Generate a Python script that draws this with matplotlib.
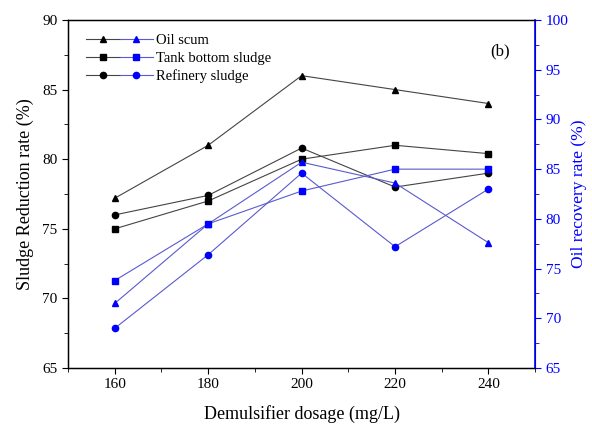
import matplotlib
matplotlib.use("Agg")

import matplotlib.pyplot as plt
from matplotlib.legend_handler import HandlerTuple
from matplotlib.ticker import MultipleLocator

plt.rcParams['font.family'] = ['Liberation Serif', 'DejaVu Serif']

# data
dosage = [160, 180, 200, 220, 240]
labels = ["Oil scum", "Tank bottom sludge", "Refinery sludge"]
markers = ["^", "s", "o"]

# sludge reduction rate (left axis, black)
red_oil = [77.2, 81.0, 86.0, 85.0, 84.0]
red_tank = [75.0, 77.0, 80.0, 81.0, 80.4]
red_ref = [76.0, 77.4, 80.8, 78.0, 79.0]

# oil recovery rate (right axis, blue)
rec_oil = [71.5, 79.5, 85.7, 83.6, 77.6]
rec_tank = [73.8, 79.5, 82.8, 85.0, 85.0]
rec_ref = [69.0, 76.4, 84.6, 77.2, 83.0]

blue = "#0000ff"

fig = plt.figure(figsize=(5.92, 4.25), dpi=100)
ax = fig.add_axes([0.115, 0.134, 0.789, 0.819])
ax2 = ax.twinx()

handles = []
for yb, yr, m, lab in zip([red_oil, red_tank, red_ref],
                          [rec_oil, rec_tank, rec_ref], markers, labels):
    hb, = ax.plot(dosage, yb, color="#444444", lw=0.8, marker=m, ms=4.5,
                  mfc="black", mec="black")
    hr, = ax2.plot(dosage, yr, color="#5a5ad0", lw=0.8, marker=m, ms=4.5,
                   mfc=blue, mec=blue)
    handles.append((hb, hr))

ax.set_xlim(150, 250)
ax.set_ylim(65, 90)
ax2.set_ylim(65, 100)

ax.xaxis.set_major_locator(MultipleLocator(20))
ax.xaxis.set_minor_locator(MultipleLocator(10))
ax.yaxis.set_major_locator(MultipleLocator(5))
ax.yaxis.set_minor_locator(MultipleLocator(2.5))
ax2.yaxis.set_major_locator(MultipleLocator(5))
ax2.yaxis.set_minor_locator(MultipleLocator(2.5))

ax.tick_params(axis='both', which='major', direction='out', length=4, labelsize=11)
ax.tick_params(axis='both', which='minor', direction='out', length=3)
ax2.tick_params(axis='y', which='major', direction='out', length=4,
                labelsize=11, colors=blue)
ax2.tick_params(axis='y', which='minor', direction='out', length=3, colors=blue)
ax2.spines['right'].set_color(blue)
ax2.spines['right'].set_linewidth(1.2)
for s in ['left', 'bottom', 'top']:
    ax.spines[s].set_linewidth(1.0)

ax.set_xlabel("Demulsifier dosage (mg/L)", fontsize=13, labelpad=10)
ax.set_ylabel("Sludge Reduction rate (%)", fontsize=13, labelpad=6)
ax2.set_ylabel("Oil recovery rate (%)", fontsize=12.5, color=blue, labelpad=2)

ax.text(0.925, 0.91, "(b)", transform=ax.transAxes, fontsize=12,
        ha='center', va='center')

ax.legend(handles, labels, handler_map={tuple: HandlerTuple(ndivide=None, pad=0)},
          loc='upper left', bbox_to_anchor=(0.02, 0.985), frameon=False,
          fontsize=10.5, handlelength=4.6, handletextpad=0.2, labelspacing=0.3,
          borderaxespad=0.2)

fig.savefig("out.png", dpi=100)
